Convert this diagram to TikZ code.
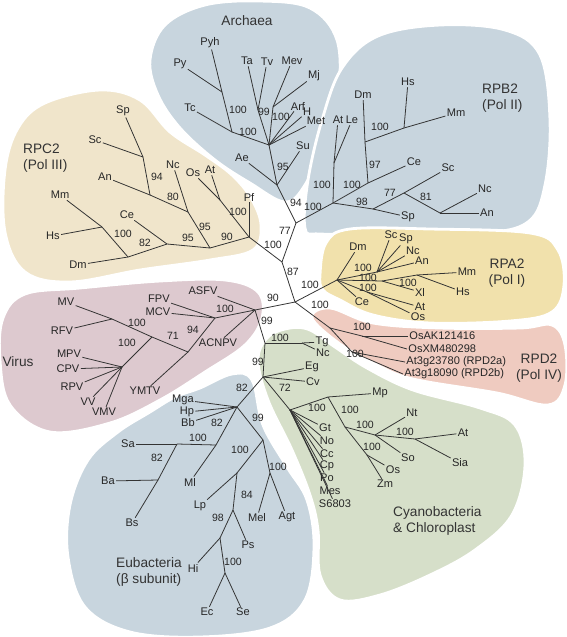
\documentclass[tikz,border=0pt]{standalone}
\usepackage{fontspec}
\setmainfont{Liberation Sans}
\usetikzlibrary{positioning}
\definecolor{blobblue}{RGB}{200,213,222}
\definecolor{blobbeige}{RGB}{240,229,203}
\definecolor{blobyellow}{RGB}{241,225,172}
\definecolor{blobmauve}{RGB}{221,201,207}
\definecolor{blobpink}{RGB}{239,203,192}
\definecolor{blobgreen}{RGB}{214,223,201}

\begin{document}
\begin{tikzpicture}[x=0.02cm,y=-0.02cm,
  leaf/.style={font=\fontsize{6.3}{7}\selectfont,inner sep=0.6pt,text=black!85},
  boot/.style={font=\fontsize{6}{7}\selectfont,inner sep=0pt,text=black!85},
  group/.style={font=\fontsize{7.8}{9.2}\selectfont,align=center,text=black!80},
  br/.style={draw=black!80,line width=0.45pt},
  blob/.style={draw=white,line width=1.6pt}
]
  \fill[white] (0,0) rectangle (566,637);
  \useasboundingbox (0,0) rectangle (566,637);

  % coloured regions
  \filldraw[blob,fill=blobblue] plot[smooth cycle,tension=0.6] coordinates {(285,202) (250,183) (215,160) (180,128) (158,95) (150,60) (165,25) (205,5) (260,1) (310,8) (337,40) (338,95) (322,145) (305,185)};
  \filldraw[blob,fill=blobblue] plot[smooth cycle,tension=0.6] coordinates {(305,228) (308,180) (322,120) (342,68) (378,36) (440,25) (505,30) (540,55) (550,120) (545,185) (528,222) (480,233) (380,233) (320,234)};
  \filldraw[blob,fill=blobbeige] plot[smooth cycle,tension=0.6] coordinates {(45,103) (100,90) (140,100) (170,132) (205,155) (232,175) (251,198) (261,225) (253,250) (210,260) (140,270) (70,282) (25,272) (5,232) (5,170) (18,128)};
  \filldraw[blob,fill=blobpink] plot[smooth cycle,tension=0.6] coordinates {(312,318) (330,308) (373,323) (440,328) (520,328) (552,325) (565,345) (565,385) (548,405) (497,393) (413,379) (375,364) (340,344)};
  \filldraw[blob,fill=blobyellow] plot[smooth cycle,tension=0.6] coordinates {(320,275) (326,243) (350,229) (430,229) (530,233) (558,250) (564,285) (552,312) (510,321) (430,323) (373,315) (340,300) (323,290)};
  \filldraw[blob,fill=blobmauve] plot[smooth cycle,tension=0.6] coordinates {(3,318) (25,294) (80,288) (160,281) (225,280) (258,292) (262,318) (245,345) (205,372) (160,400) (110,423) (50,432) (10,405) (0,360)};
  \filldraw[blob,fill=blobgreen] plot[smooth cycle,tension=0.6] coordinates {(258,360) (268,337) (290,328) (310,330) (335,347) (367,368) (413,390) (480,408) (515,425) (525,465) (512,515) (475,550) (430,575) (380,595) (340,600) (320,575) (318,530) (310,495) (292,450) (268,400)};
  \filldraw[blob,fill=blobblue] plot[smooth cycle,tension=0.6] coordinates {(200,388) (232,374) (252,380) (263,425) (287,467) (307,500) (314,547) (305,600) (270,628) (200,637) (130,632) (85,607) (68,557) (70,505) (88,460) (118,432) (150,412) (175,397)};

  % group names
  \node[group] (gArch) at (247,21) {Archaea};
  \node[group,align=left,anchor=west] (gPol2) at (476,98) {RPB2\\(Pol II)};
  \node[group,align=left,anchor=west] (gPol3) at (17,158) {RPC2\\(Pol III)};
  \node[group] (gPol1) at (507,273) {RPA2\\(Pol I)};
  \node[group] (gPol4) at (539,368) {RPD2\\(Pol IV)};
  \node[group] (gVir) at (18,362) {Virus};
  \node[group,align=left,anchor=west] (gCyan) at (387,521) {Cyanobacteria\\\& Chloroplast};
  \node[group,align=left,anchor=west] (gEub) at (110,572) {Eubacteria\\(β subunit)};

  % backbone
  \coordinate (a1) at (277,185);
  \coordinate (n94) at (296,223);
  \coordinate (n77) at (282,262);
  \coordinate (n87) at (295,302);
  \coordinate (v0) at (255,310);
  \coordinate (b0) at (265,343);
  \coordinate (b1) at (263,377);
  \coordinate (b2) at (302,343);
  \coordinate (eu0) at (237,407);
  \coordinate (cy0) at (290,410);

  % Archaea
  \coordinate (ac) at (269,145);
  \coordinate (ae1) at (232,132);
  \coordinate (ae2) at (222,92);
  \coordinate (at1) at (258,110);
  \coordinate (am1) at (273,107);
  \node[leaf] (arPyh) at (210,43) {Pyh};
  \node[leaf] (arPy) at (180,64) {Py};
  \node[leaf] (arTc) at (190,108) {Tc};
  \node[leaf] (arTa) at (247,61) {Ta};
  \node[leaf] (arTv) at (267,62) {Tv};
  \node[leaf] (arMev) at (292,61) {Mev};
  \node[leaf] (arMj) at (314,76) {Mj};
  \node[leaf] (arArf) at (298,106) {Arf};
  \node[leaf] (arH) at (307,112) {H};
  \node[leaf] (arMet) at (316,121) {Met};
  \node[leaf] (arSu) at (303,146) {Su};
  \node[leaf] (arAe) at (242,158) {Ae};

  % RPB2
  \coordinate (r0) at (333,203);
  \coordinate (r1) at (334,163);
  \coordinate (r2) at (368,183);
  \coordinate (r3) at (365,142);
  \coordinate (r4) at (404,128);
  \coordinate (r5) at (373,209);
  \coordinate (r6) at (404,193);
  \coordinate (r7) at (440,213);
  \node[leaf] (b2At) at (338,120) {At};
  \node[leaf] (b2Le) at (352,120) {Le};
  \node[leaf] (b2Ce) at (414,162) {Ce};
  \node[leaf] (b2Dm) at (363,95) {Dm};
  \node[leaf] (b2Mm) at (456,113) {Mm};
  \node[leaf] (b2Hs) at (408,82) {Hs};
  \node[leaf] (b2Sp) at (408,217) {Sp};
  \node[leaf] (b2Sc) at (448,168) {Sc};
  \node[leaf] (b2Nc) at (485,189) {Nc};
  \node[leaf] (b2An) at (487,213) {An};

  % RPC2
  \coordinate (p0) at (249,237);
  \coordinate (p1) at (220,200);
  \coordinate (p2) at (210,248);
  \coordinate (p3) at (188,212);
  \coordinate (p4) at (150,195);
  \coordinate (p5) at (143,157);
  \coordinate (p6) at (167,244);
  \coordinate (p7) at (128,257);
  \coordinate (p8) at (102,227);
  \node[leaf] (c3Pf) at (249,197) {Pf};
  \node[leaf] (c3Os) at (193,173) {Os};
  \node[leaf] (c3At) at (210,170) {At};
  \node[leaf] (c3Nc) at (173,165) {Nc};
  \node[leaf] (c3An) at (105,177) {An};
  \node[leaf] (c3Sp) at (123,111) {Sp};
  \node[leaf] (c3Sc) at (95,140) {Sc};
  \node[leaf] (c3Ce) at (127,215) {Ce};
  \node[leaf] (c3Dm) at (78,265) {Dm};
  \node[leaf] (c3Mm) at (60,195) {Mm};
  \node[leaf] (c3Hs) at (53,236) {Hs};

  % RPA2
  \coordinate (q0) at (337,280);
  \coordinate (q1) at (377,272);
  \coordinate (q2) at (382,281);
  \coordinate (q3) at (417,275);
  \coordinate (q4) at (367,292);
  \node[leaf] (a2Dm) at (358,247) {Dm};
  \node[leaf] (a2Sc) at (391,235) {Sc};
  \node[leaf] (a2Sp) at (406,239) {Sp};
  \node[leaf] (a2Nc) at (413,251) {Nc};
  \node[leaf] (a2An) at (422,261) {An};
  \node[leaf] (a2Mm) at (467,272) {Mm};
  \node[leaf] (a2Hs) at (463,292) {Hs};
  \node[leaf] (a2Xl) at (420,292) {Xl};
  \node[leaf] (a2Ce) at (362,302) {Ce};
  \node[leaf] (a2At) at (420,307) {At};
  \node[leaf] (a2Os) at (418,317) {Os};

  % RPD2
  \coordinate (d0) at (330,328);
  \coordinate (d1) at (362,336);
  \coordinate (d2) at (352,352);
  \node[leaf,anchor=west] (d2OsAK) at (408,336) {OsAK121416};
  \node[leaf,anchor=west] (d2OsXM) at (407,349) {OsXM480298};
  \node[leaf,anchor=west] (d2At23) at (405,362) {At3g23780 (RPD2a)};
  \node[leaf,anchor=west] (d2At18) at (403,374) {At3g18090 (RPD2b)};

  % Virus
  \coordinate (v1) at (215,318);
  \coordinate (v2) at (188,352);
  \coordinate (v3) at (152,337);
  \coordinate (v4) at (112,319);
  \coordinate (v5) at (122,367);
  \node[leaf] (viASFV) at (203,291) {ASFV};
  \node[leaf] (viACNPV) at (218,343) {ACNPV};
  \node[leaf] (viFPV) at (159,299) {FPV};
  \node[leaf] (viMCV) at (158,312) {MCV};
  \node[leaf] (viYMTV) at (145,391) {YMTV};
  \node[leaf] (viMV) at (66,302) {MV};
  \node[leaf] (viRFV) at (62,331) {RFV};
  \node[leaf] (viMPV) at (69,354) {MPV};
  \node[leaf] (viCPV) at (68,369) {CPV};
  \node[leaf] (viRPV) at (72,387) {RPV};
  \node[leaf] (viVV) at (88,402) {VV};
  \node[leaf] (viVMV) at (104,412) {VMV};

  % Cyanobacteria and chloroplast
  \coordinate (k1) at (328,397);
  \coordinate (k2) at (345,427);
  \coordinate (k3) at (375,435);
  \coordinate (k4) at (415,439);
  \coordinate (k5) at (367,455);
  \node[leaf] (baTg) at (322,342) {Tg};
  \node[leaf] (baNc) at (323,353) {Nc};
  \node[leaf] (baEg) at (312,367) {Eg};
  \node[leaf] (baCv) at (313,382) {Cv};
  \node[leaf] (cyGt) at (325,428) {Gt};
  \node[leaf] (cyNo) at (327,441) {No};
  \node[leaf] (cyCc) at (327,454) {Cc};
  \node[leaf] (cyCp) at (327,466) {Cp};
  \node[leaf] (cyPo) at (327,478) {Po};
  \node[leaf] (cyMes) at (330,491) {Mes};
  \node[leaf] (cyS) at (335,504) {S6803};
  \node[leaf] (cyMp) at (380,393) {Mp};
  \node[leaf] (cyNt) at (412,413) {Nt};
  \node[leaf] (cySo) at (408,458) {So};
  \node[leaf] (cyAt) at (463,433) {At};
  \node[leaf] (cySia) at (460,463) {Sia};
  \node[leaf] (cyOs) at (393,470) {Os};
  \node[leaf] (cyZm) at (385,484) {Zm};

  % Eubacteria
  \coordinate (u1) at (216,445);
  \coordinate (u2) at (177,444);
  \coordinate (u3) at (158,480);
  \coordinate (u4) at (263,440);
  \coordinate (u5) at (237,473);
  \coordinate (u6) at (233,510);
  \coordinate (u7) at (220,538);
  \coordinate (u8) at (225,573);
  \coordinate (u9) at (270,473);
  \node[leaf] (euMga) at (183,400) {Mga};
  \node[leaf] (euHp) at (187,412) {Hp};
  \node[leaf] (euBb) at (188,423) {Bb};
  \node[leaf] (euMl) at (190,482) {Ml};
  \node[leaf] (euSa) at (128,444) {Sa};
  \node[leaf] (euBa) at (108,481) {Ba};
  \node[leaf] (euBs) at (132,523) {Bs};
  \node[leaf] (euLp) at (200,506) {Lp};
  \node[leaf] (euPs) at (248,545) {Ps};
  \node[leaf] (euHi) at (193,568) {Hi};
  \node[leaf] (euEc) at (207,612) {Ec};
  \node[leaf] (euSe) at (243,612) {Se};
  \node[leaf] (euMel) at (257,518) {Mel};
  \node[leaf] (euAgt) at (287,517) {Agt};

  % branches
  \foreach \p/\c in {a1/n94, n94/n77, n77/n87, n87/v0, v0/b0, b0/b1, b1/eu0, b1/cy0,
      a1/ac, a1/arAe, a1/arSu, ac/ae1, ae1/arTc, ae1/ae2, ae2/arPy, ae2/arPyh,
      ac/at1, at1/arTa, at1/arTv, ac/am1, am1/arMev, am1/arMj, ac/arArf, ac/arH, ac/arMet,
      n94/r0, r0/r1, r1/b2At, r1/b2Le, r0/r2, r2/b2Ce, r2/r3, r3/b2Dm, r3/r4, r4/b2Mm,
      r4/b2Hs, r0/r5, r5/b2Sp, r5/r6, r6/b2Sc, r6/r7, r7/b2Nc, r7/b2An,
      n77/p0, p0/c3Pf, p0/p1, p1/c3Os, p1/c3At, p0/p2, p2/p3, p3/c3Nc, p3/p4, p4/c3An,
      p4/p5, p5/c3Sp, p5/c3Sc, p2/p6, p6/c3Ce, p6/p7, p7/c3Dm, p7/p8, p8/c3Mm, p8/c3Hs,
      n87/q0, q0/a2Dm, q0/q1, q1/a2Sc, q1/a2Sp, q1/a2Nc, q1/a2An, q0/q2, q2/q3, q3/a2Mm,
      q3/a2Hs, q2/a2Xl, q0/a2Ce, q0/q4, q4/a2At, q4/a2Os,
      n87/d0, d0/d1, d1/d2OsAK.west, d1/d2OsXM.west, d0/d2, d2/d2At23.west, d2/d2At18.west,
      v0/viASFV, v0/viACNPV, v0/v1, v1/viFPV, v1/viMCV, v1/v2, v2/viYMTV, v2/v3, v3/v4,
      v4/viMV, v4/viRFV, v3/v5, v5/viMPV, v5/viCPV, v5/viRPV, v5/viVV, v5/viVMV,
      b0/b2, b2/baTg, b2/baNc, b1/baEg, b1/baCv,
      cy0/cyGt, cy0/cyNo, cy0/cyCc, cy0/cyCp, cy0/cyPo, cy0/cyMes, cy0/cyS,
      cy0/k1, k1/cyMp, k1/k2, k2/k3, k3/cyNt, k3/cySo, k3/k4, k4/cyAt, k4/cySia,
      k2/k5, k5/cyOs, k5/cyZm,
      eu0/euMga, eu0/euHp, eu0/euBb, eu0/u1, u1/euMl, u1/u2, u2/euSa, u2/u3, u3/euBa,
      u3/euBs, eu0/u4, u4/u5, u5/euLp, u5/u6, u6/euPs, u6/u7, u7/euHi, u7/u8, u8/euEc,
      u8/euSe, u4/u9, u9/euMel, u9/euAgt}
    \draw[br] (\p) -- (\c);

  % bootstrap values
  \foreach \v/\x/\y [count=\i] in {100/238/110, 99/264/112, 100/281/117, 100/248/132, 95/283/167,
      94/296/203, 77/285/231, 100/273/245, 87/293/272, 100/310/285, 100/320/305, 90/273/298,
      99/267/321, 100/280/338, 99/258/362, 72/285/388, 82/242/388,
      100/380/127, 97/375/165, 100/352/185, 100/322/185, 98/362/202, 77/390/193, 81/426/197,
      100/313/207,
      100/238/212, 90/227/237, 95/205/227, 80/173/197, 94/157/177, 95/188/238, 82/145/243,
      100/123/234,
      100/363/268, 100/368/278, 100/368/288, 100/408/283,
      100/362/327, 100/355/354,
      100/225/309, 94/193/330, 71/173/336, 100/137/323, 100/127/343,
      100/317/408, 100/350/410, 100/365/425, 100/405/432, 100/372/447,
      82/217/423, 100/198/438, 82/157/458, 99/258/418, 100/240/450, 84/247/495, 98/218/518,
      100/233/562, 100/278/467}
    \node[boot] (bs\i) at (\x,\y) {\v};
\end{tikzpicture}
\end{document}
